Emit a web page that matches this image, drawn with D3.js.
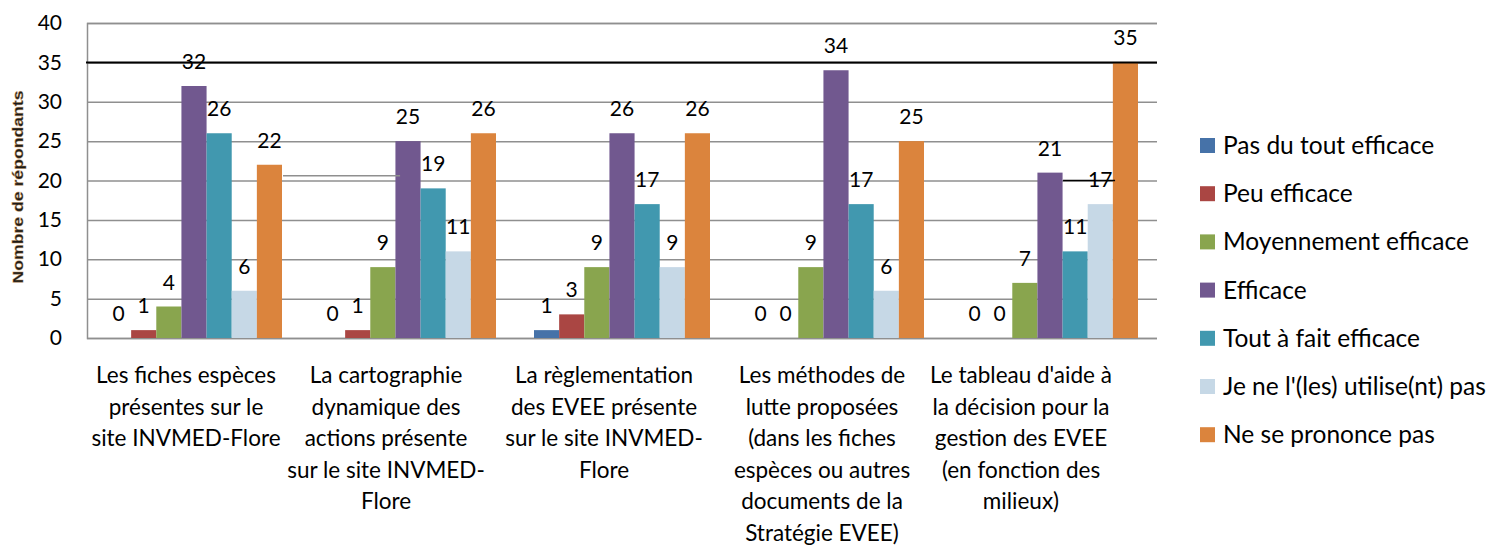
<!DOCTYPE html>
<html><head><meta charset="utf-8">
<script src="https://cdn.jsdelivr.net/npm/d3@7"></script>
<style>
html,body{margin:0;padding:0;background:#fff;}
svg{display:block;font-family:Lato,"Open Sans",sans-serif;}
</style></head>
<body><svg id="c" width="1495" height="547"></svg>
<script>
// ---- data ----
const categories = [
  ["Les fiches espèces", "présentes sur le", "site INVMED-Flore"],
  ["La cartographie", "dynamique des", "actions présente", "sur le site INVMED-", "Flore"],
  ["La règlementation", "des EVEE présente", "sur le site INVMED-", "Flore"],
  ["Les méthodes de", "lutte proposées", "(dans les fiches", "espèces ou autres", "documents de la", "Stratégie EVEE)"],
  ["Le tableau d'aide à", "la décision pour la", "gestion des EVEE", "(en fonction des", "milieux)"]
];
const seriesNames = ["Pas du tout efficace", "Peu efficace", "Moyennement efficace", "Efficace",
  "Tout à fait efficace", "Je ne l'(les) utilise(nt) pas", "Ne se prononce pas"];
const pasDuToutEfficace = [0, 0, 1, 0, 0];
const peuEfficace = [1, 1, 3, 0, 0];
const moyennementEfficace = [4, 9, 9, 9, 7];
const efficace = [32, 25, 26, 34, 21];
const toutAFaitEfficace = [26, 19, 17, 17, 11];
const neLesUtilisePas = [6, 11, 9, 6, 17];
const neSePrononcePas = [22, 26, 26, 25, 35];
const yTicks = [0, 5, 10, 15, 20, 25, 30, 35, 40];
const yTitle = "Nombre de répondants";
const referenceValue = 35;

// ---- styles / layout ----
const seriesValues = [pasDuToutEfficace, peuEfficace, moyennementEfficace, efficace,
  toutAFaitEfficace, neLesUtilisePas, neSePrononcePas];
const colors = ["#4672A8", "#AA4643", "#89A54E", "#71588F", "#4198AF", "#C6D8E6", "#DB843D"];
const plot = {left: 87, right: 1157, top: 23, bottom: 338};
const catLabelShift = [-8, -22, -18, -14, -29];
// stray segments visible in the original: [value, category, band fraction start, category, band fraction end, colour]
const straySegments = [
  [20.6, 0, 0.916, 1, 0.463, "#8f8f8f", 1.5],
  [20, 4, 0.561, 4, 0.804, "#000", 1.5]
];

const svg = d3.select("#c");
const y = d3.scaleLinear().domain([0, 40]).range([plot.bottom, plot.top]);
const x0 = d3.scaleBand().domain(d3.range(categories.length)).range([plot.left, plot.right]).padding(0);
const bw = x0.bandwidth();
const x1 = d3.scaleBand().domain(d3.range(seriesNames.length)).range([19, bw - 19]).padding(0);

// gridlines
const yAxis = d3.axisLeft(y).tickValues(yTicks).tickSize(-(plot.right - plot.left)).tickPadding(25).tickFormat(d3.format("d"));
const gy = svg.append("g").attr("transform", `translate(${plot.left},0)`).call(yAxis);
gy.select(".domain").attr("stroke", "#8f8f8f").attr("stroke-width", 1.5);
gy.selectAll(".tick line").attr("stroke", "#8f8f8f").attr("stroke-width", 1.5);
gy.selectAll(".tick text").attr("font-size", 21).attr("fill", "#000").attr("font-family", "Lato");

// bars
const groups = svg.append("g").selectAll("g").data(categories).join("g")
  .attr("transform", (d, i) => `translate(${x0(i)},0)`);
groups.each(function (d, ci) {
  const g = d3.select(this);
  seriesValues.forEach((vals, si) => {
    const v = vals[ci];
    g.append("rect")
      .attr("x", x1(si)).attr("width", x1.bandwidth())
      .attr("y", y(v)).attr("height", y(0) - y(v))
      .attr("fill", colors[si]);
  });
});

// reference line at 35
svg.append("line").attr("x1", plot.left - 1).attr("x2", plot.right)
  .attr("y1", y(referenceValue)).attr("y2", y(referenceValue))
  .attr("stroke", "#000").attr("stroke-width", 2);

// stray segments
straySegments.forEach(s => {
  svg.append("line")
    .attr("x1", x0(s[1]) + s[2] * bw).attr("x2", x0(s[3]) + s[4] * bw)
    .attr("y1", y(s[0])).attr("y2", y(s[0]))
    .attr("stroke", s[5]).attr("stroke-width", s[6]);
});

// data labels
groups.each(function (d, ci) {
  const g = d3.select(this);
  seriesValues.forEach((vals, si) => {
    const v = vals[ci];
    g.append("text")
      .attr("x", x1(si) + x1.bandwidth() / 2).attr("y", y(v) - 17)
      .attr("text-anchor", "middle").attr("font-size", 21).attr("fill", "#000")
      .text(v);
  });
});

// category labels
groups.each(function (lines, ci) {
  const t = d3.select(this).append("text")
    .attr("text-anchor", "middle").attr("font-size", 22.5).attr("fill", "#000");
  lines.forEach((ln, k) => {
    t.append("tspan").attr("x", bw / 2 + catLabelShift[ci]).attr("y", 383 + k * 31.6).text(ln);
  });
});

// y title
svg.append("text")
  .attr("transform", "translate(23,187) rotate(-90)")
  .attr("text-anchor", "middle").attr("font-size", 15).attr("font-weight", "bold")
  .attr("font-family", "Liberation Sans Narrow, Liberation Sans, sans-serif")
  .attr("textLength", 193).attr("lengthAdjust", "spacingAndGlyphs")
  .attr("fill", "#1a1a1a").attr("stroke", "rgba(190,130,60,0.45)").attr("stroke-width", 0.8)
  .text(yTitle);

// legend
const legend = svg.append("g").attr("transform", "translate(1200,138)");
seriesNames.forEach((name, i) => {
  const row = legend.append("g").attr("transform", `translate(0,${i * 48.2})`);
  row.append("rect").attr("width", 15).attr("height", 15).attr("fill", colors[i]);
  row.append("text").attr("x", 23).attr("y", 16).attr("font-size", 24.5).attr("fill", "#000").text(name);
});
</script></body></html>
